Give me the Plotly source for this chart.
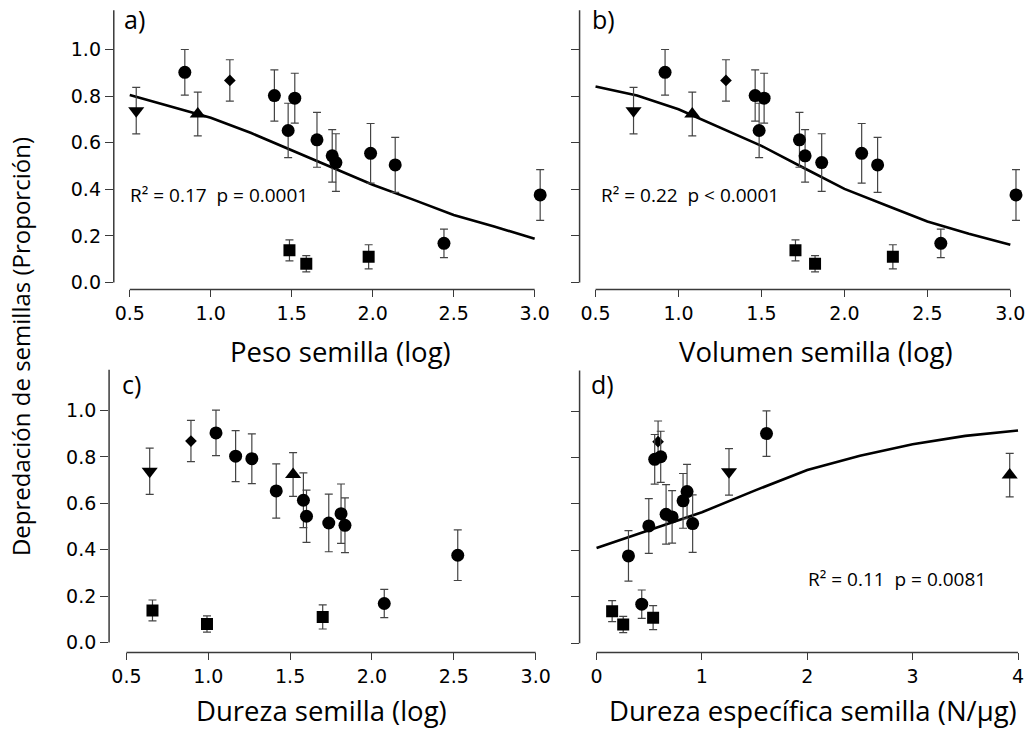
import plotly.graph_objects as go

# ---- data: one entry per species ----
species_group = ["down", "up", "diamond",
                 "square", "square", "square",
                 "circle", "circle", "circle", "circle", "circle", "circle",
                 "circle", "circle", "circle", "circle", "circle"]

predation = [0.738, 0.724, 0.868,
             0.138, 0.080, 0.110,
             0.903, 0.803, 0.792, 0.653, 0.613, 0.555,
             0.544, 0.515, 0.505, 0.376, 0.168]

predation_se = [0.100, 0.094, 0.089,
                0.045, 0.035, 0.052,
                0.098, 0.110, 0.107, 0.117, 0.118, 0.128,
                0.113, 0.124, 0.118, 0.109, 0.061]

peso_log = [0.54, 0.92, 1.118,
            1.486, 1.59, 1.975,
            0.84, 1.393, 1.519, 1.478, 1.656, 1.987,
            1.75, 1.773, 2.139, 3.034, 2.44]

volumen_log = [0.729, 1.083, 1.286,
               1.705, 1.823, 2.292,
               0.919, 1.462, 1.516, 1.486, 1.729, 2.104,
               1.763, 1.863, 2.2, 3.034, 2.581]

dureza_log = [0.642, 1.518, 0.894,
              0.659, 0.992, 1.699,
              1.047, 1.167, 1.266, 1.415, 1.581, 1.811,
              1.6, 1.736, 1.835, 2.524, 2.075]

dureza_especifica = [1.257, 3.921, 0.584,
                     0.148, 0.253, 0.537,
                     1.613, 0.609, 0.552, 0.859, 0.821, 0.66,
                     0.717, 0.912, 0.496, 0.303, 0.429]

# fitted logistic curves
fit_peso_x = [0.5, 0.75, 1.0, 1.25, 1.5, 1.75, 2.0, 2.25, 2.5, 2.75, 3.0]
fit_peso_y = [0.805, 0.758, 0.708, 0.642, 0.568, 0.494, 0.420, 0.356, 0.290, 0.240, 0.188]

fit_vol_x = [0.5, 0.75, 1.0, 1.25, 1.5, 1.75, 2.0, 2.25, 2.5, 2.75, 3.0]
fit_vol_y = [0.842, 0.803, 0.744, 0.665, 0.587, 0.494, 0.402, 0.332, 0.262, 0.209, 0.162]

fit_esp_x = [0.0, 0.5, 1.0, 1.5, 2.0, 2.5, 3.0, 3.5, 4.0]
fit_esp_y = [0.410, 0.486, 0.564, 0.657, 0.746, 0.807, 0.857, 0.893, 0.916]

stats_peso = "R\u00b2 = 0.17  p = 0.0001"
stats_vol = "R\u00b2 = 0.22  p < 0.0001"
stats_esp = "R\u00b2 = 0.11  p = 0.0081"

x_ticks_log = [0.5, 1.0, 1.5, 2.0, 2.5, 3.0]
x_ticks_esp = [0, 1, 2, 3, 4]
y_ticks = [0.0, 0.2, 0.4, 0.6, 0.8, 1.0]

# ---- layout helpers (pixel geometry of the 1033x732 canvas) ----
W, H = 1033, 732
AXIS = "#3a3a3a"
TITLE_FONT = "Open Sans"
TICK_FONT = "DejaVu Sans"

marker_style = {
    "down": dict(symbol="triangle-down", size=14),
    "up": dict(symbol="triangle-up", size=14),
    "diamond": dict(symbol="diamond", size=9),
    "square": dict(symbol="square", size=12),
    "circle": dict(symbol="circle", size=13),
}


def px_range(p_lo, p_hi, v0, p0, v1, p1):
    """Data range for an axis whose pixel span is p_lo..p_hi, given two anchor ticks."""
    s = (p1 - p0) / (v1 - v0)
    return [v0 + (p_lo - p0) / s, v0 + (p_hi - p0) / s]


panels = [
    dict(name="a", xv=peso_log, fx=fit_peso_x, fy=fit_peso_y, stats=stats_peso,
         xdom=(114, 550), ydom=(5, 291), xa=(0.5, 130.0, 3.0, 535.7), ya=(0.0, 284.0, 1.0, 50.0),
         xticks=x_ticks_log, fmt=".1f", ylabels=True, ytop=1.17,
         label="a)", label_xy=(135, 19), stats_xy=(128, 196),
         title="Peso semilla (log)", title_xy=(341, 353)),
    dict(name="b", xv=volumen_log, fx=fit_vol_x, fy=fit_vol_y, stats=stats_vol,
         xdom=(580.7, 1025), ydom=(5, 291), xa=(0.5, 596.7, 3.0, 1012.3), ya=(0.0, 284.0, 1.0, 50.0),
         xticks=x_ticks_log, fmt=".1f", ylabels=False, ytop=1.17,
         label="b)", label_xy=(605, 19), stats_xy=(600, 196),
         title="Volumen semilla (log)", title_xy=(818, 353)),
    dict(name="c", xv=dureza_log, fx=None, fy=None, stats=None,
         xdom=(109.3, 550), ydom=(366, 656), xa=(0.5, 126.7, 3.0, 536.7), ya=(0.0, 646.0, 1.0, 412.7),
         xticks=x_ticks_log, fmt=".1f", ylabels=True, ytop=1.175,
         label="c)", label_xy=(132, 386), stats_xy=None,
         title="Dureza semilla (log)", title_xy=(322, 714)),
    dict(name="d", xv=dureza_especifica, fx=fit_esp_x, fy=fit_esp_y, stats=stats_esp,
         xdom=(580.7, 1025), ydom=(366, 656), xa=(0.0, 597.7, 4.0, 1020.0), ya=(0.0, 646.7, 1.0, 413.3),
         xticks=x_ticks_esp, fmt="d", ylabels=False, ytop=1.175,
         label="d)", label_xy=(604, 386), stats_xy=(808, 582),
         title="Dureza espec\u00edfica semilla (N/\u00b5g)", title_xy=(815, 714)),
]

fig = go.Figure()
annotations = []
shapes = []

for i, p in enumerate(panels, start=1):
    xname = "x" if i == 1 else f"x{i}"
    yname = "y" if i == 1 else f"y{i}"
    xkey = "xaxis" if i == 1 else f"xaxis{i}"
    ykey = "yaxis" if i == 1 else f"yaxis{i}"

    # fitted curve
    if p["fx"] is not None:
        fig.add_trace(go.Scatter(x=p["fx"], y=p["fy"], mode="lines",
                                 line=dict(color="black", width=2.6),
                                 xaxis=xname, yaxis=yname, showlegend=False,
                                 hoverinfo="skip"))

    # species points by marker group
    for grp, style in marker_style.items():
        idx = [k for k, g in enumerate(species_group) if g == grp]
        fig.add_trace(go.Scatter(
            x=[p["xv"][k] for k in idx],
            y=[predation[k] for k in idx],
            mode="markers",
            marker=dict(color="black", symbol=style["symbol"], size=style["size"],
                        line=dict(width=0)),
            error_y=dict(type="data", array=[predation_se[k] for k in idx],
                         color="#444444", thickness=1.2, width=4),
            xaxis=xname, yaxis=yname, showlegend=False,
        ))

    xr = px_range(p["xdom"][0], p["xdom"][1], *p["xa"])
    y0v, y0p, y1v, y1p = p["ya"]
    # pixel y grows downward, so bottom of the domain maps to the low value
    yr = px_range(p["ydom"][1], p["ydom"][0], y0v, y0p, y1v, y1p)

    fig.layout[xkey] = dict(
        domain=[p["xdom"][0] / W, p["xdom"][1] / W],
        range=xr, anchor=yname, showgrid=False, zeroline=False, showline=False,
        ticks="outside", ticklen=7, tickwidth=1.3, tickcolor=AXIS,
        tickvals=p["xticks"], tickformat=p["fmt"],
        tickfont=dict(family=TICK_FONT, size=19, color="black"),
        fixedrange=True,
    )
    fig.layout[ykey] = dict(
        domain=[1 - p["ydom"][1] / H, 1 - p["ydom"][0] / H],
        range=yr, anchor=xname, showgrid=False, zeroline=False, showline=False,
        ticks="outside", ticklen=8, tickwidth=1.3, tickcolor=AXIS,
        tickvals=y_ticks, tickformat=".1f", showticklabels=p["ylabels"],
        tickfont=dict(family=TICK_FONT, size=19, color="black"),
        fixedrange=True,
    )

    # R-style detached axis lines
    shapes.append(dict(type="line", xref=f"{xname} domain", yref=yname,
                       x0=0, x1=0, y0=0, y1=p["ytop"],
                       line=dict(color=AXIS, width=1.5)))
    shapes.append(dict(type="line", xref=xname, yref=f"{yname} domain",
                       x0=p["xticks"][0], x1=p["xticks"][-1], y0=0, y1=0,
                       line=dict(color=AXIS, width=1.5)))

    # panel letter
    lx, ly = p["label_xy"]
    annotations.append(dict(text=p["label"], xref="paper", yref="paper",
                            x=lx / W, y=1 - ly / H, xanchor="center", yanchor="middle",
                            showarrow=False,
                            font=dict(family=TITLE_FONT, size=25, color="black")))
    # fit statistics
    if p["stats"] is not None:
        sx, sy = p["stats_xy"]
        annotations.append(dict(text=p["stats"], xref="paper", yref="paper",
                                x=sx / W, y=1 - sy / H, xanchor="left", yanchor="middle",
                                showarrow=False,
                                font=dict(family=TITLE_FONT, size=19, color="black")))
    # x axis title
    tx, ty = p["title_xy"]
    annotations.append(dict(text=p["title"], xref="paper", yref="paper",
                            x=tx / W, y=1 - ty / H, xanchor="center", yanchor="middle",
                            showarrow=False,
                            font=dict(family=TITLE_FONT, size=27.5, color="black")))

# shared y axis title
annotations.append(dict(text="Depredaci\u00f3n de semillas (Proporci\u00f3n)",
                        xref="paper", yref="paper", x=20 / W, y=1 - 348 / H,
                        xanchor="center", yanchor="middle", textangle=-90,
                        showarrow=False,
                        font=dict(family=TITLE_FONT, size=24, color="black")))

fig.update_layout(
    width=W, height=H,
    margin=dict(l=0, r=0, t=0, b=0),
    paper_bgcolor="white", plot_bgcolor="white",
    annotations=annotations, shapes=shapes,
    showlegend=False,
)

fig.write_html("out.html")
